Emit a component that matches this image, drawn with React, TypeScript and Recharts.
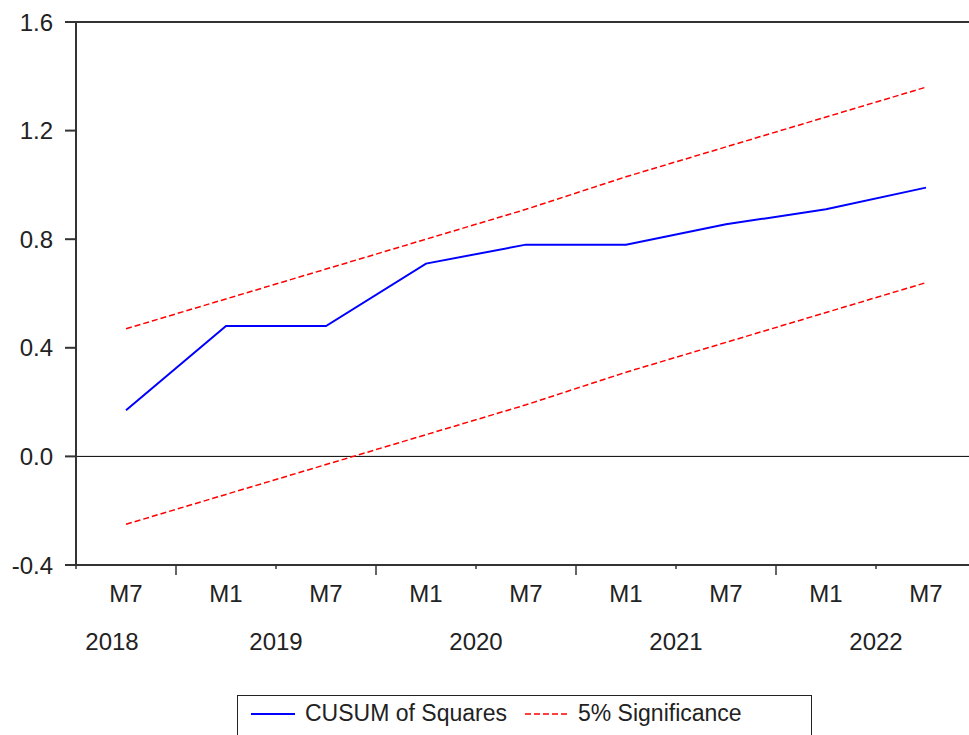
import { LineChart, Line, XAxis, YAxis, ReferenceLine, Legend } from 'recharts';

const periods = ['M7', 'M1', 'M7', 'M1', 'M7', 'M1', 'M7', 'M1', 'M7'];
const cusumSq = [0.17, 0.48, 0.48, 0.71, 0.78, 0.78, 0.855, 0.91, 0.99];
const upper = [0.47, 0.58, 0.69, 0.80, 0.91, 1.03, 1.14, 1.25, 1.36];
const lower = [-0.25, -0.14, -0.03, 0.08, 0.19, 0.31, 0.42, 0.53, 0.64];

const years = ['2018', '2019', '2020', '2021', '2022'];
const yearTicks = [-0.14, 1.5, 3.5, 5.5, 7.5];
const tickMarks = [-0.5, 0.5, 1.5, 2.5, 3.5, 4.5, 5.5, 6.5, 7.5, 8.5];
const yTicks = [-0.4, 0, 0.4, 0.8, 1.2, 1.6];

const data = periods.map((p, i) => ({
  i,
  period: p,
  cusum: cusumSq[i],
  upper: upper[i],
  lower: lower[i],
}));

const FONT = '"Liberation Sans", Arial, sans-serif';
const AXIS = '#333';

function TickMark(props: any) {
  const { x, y, payload } = props;
  // year boundaries get the long tick
  const long = Math.abs(((payload.value - 0.5) % 2)) < 0.01;
  return <line x1={x} x2={x} y1={y} y2={y + (long ? 10 : 4)} stroke={AXIS} strokeWidth={1.5} />;
}

function LegendBox() {
  return (
    <div
      style={{
        boxSizing: 'border-box',
        width: 575,
        height: 45,
        border: '1px solid #222',
        display: 'flex',
        alignItems: 'center',
        fontFamily: FONT,
        fontSize: 23,
        color: '#222',
        paddingBottom: 8,
      }}
    >
      <svg width={44} height={4} style={{ marginLeft: 13 }}>
        <line x1={0} x2={44} y1={2} y2={2} stroke="#0000ff" strokeWidth={2} />
      </svg>
      <span style={{ marginLeft: 10 }}>CUSUM of Squares</span>
      <svg width={45} height={4} style={{ marginLeft: 18 }}>
        <line x1={0} x2={45} y1={2} y2={2} stroke="#ff0000" strokeWidth={1.5} strokeDasharray="6 3" />
      </svg>
      <span style={{ marginLeft: 8 }}>5% Significance</span>
    </div>
  );
}

export default function App() {
  return (
    <div style={{ position: 'absolute', left: 0, top: 0, width: 969, height: 735, overflow: 'hidden', background: '#fff' }}>
      <LineChart width={976} height={735} data={data} margin={{ top: 22, right: 0, bottom: 35, left: 0 }}>
        <XAxis
          xAxisId="main"
          dataKey="i"
          type="number"
          domain={[-0.5, 8.5]}
          allowDataOverflow
          ticks={tickMarks}
          interval={0}
          height={10}
          tickSize={0}
          tickMargin={0}
          tickLine={false}
          tick={<TickMark />}
          axisLine={{ stroke: AXIS, strokeWidth: 2 }}
        />
        <XAxis
          xAxisId="period"
          dataKey="i"
          type="number"
          domain={[-0.5, 8.5]}
          allowDataOverflow
          ticks={[0, 1, 2, 3, 4, 5, 6, 7, 8]}
          interval={0}
          height={40}
          tickSize={0}
          tickMargin={10}
          tickLine={false}
          axisLine={false}
          tickFormatter={(v: number) => periods[v]}
          tick={{ fill: '#222', fontSize: 24, fontFamily: FONT }}
        />
        <XAxis
          xAxisId="year"
          dataKey="i"
          type="number"
          domain={[-0.5, 8.5]}
          allowDataOverflow
          ticks={yearTicks}
          interval={0}
          height={40}
          tickSize={0}
          tickMargin={18}
          tickLine={false}
          axisLine={false}
          tickFormatter={(v: number) => years[yearTicks.indexOf(v)]}
          tick={{ fill: '#222', fontSize: 24, fontFamily: FONT }}
        />
        <YAxis
          type="number"
          domain={[-0.4, 1.6]}
          ticks={yTicks}
          interval={0}
          width={76}
          tickSize={11}
          tickMargin={12}
          tickFormatter={(v: number) => v.toFixed(1)}
          tick={{ fill: '#222', fontSize: 24, fontFamily: FONT }}
          tickLine={{ stroke: AXIS, strokeWidth: 2 }}
          axisLine={{ stroke: AXIS, strokeWidth: 2 }}
        />
        <ReferenceLine xAxisId="main" y={1.6} stroke={AXIS} strokeWidth={2} />
        <ReferenceLine xAxisId="main" y={0} stroke="#000" strokeWidth={1} />
        <Line xAxisId="main" type="linear" dataKey="upper" stroke="#ff0000" strokeWidth={1.5} strokeDasharray="6 3" dot={false} isAnimationActive={false} />
        <Line xAxisId="main" type="linear" dataKey="lower" stroke="#ff0000" strokeWidth={1.5} strokeDasharray="6 3" dot={false} isAnimationActive={false} />
        <Line xAxisId="main" type="linear" dataKey="cusum" stroke="#0000ff" strokeWidth={2} dot={false} isAnimationActive={false} />
        <Legend
          verticalAlign="bottom"
          width={575}
          wrapperStyle={{ left: 237, top: 695, width: 575 }}
          content={() => <LegendBox />}
        />
      </LineChart>
    </div>
  );
}
